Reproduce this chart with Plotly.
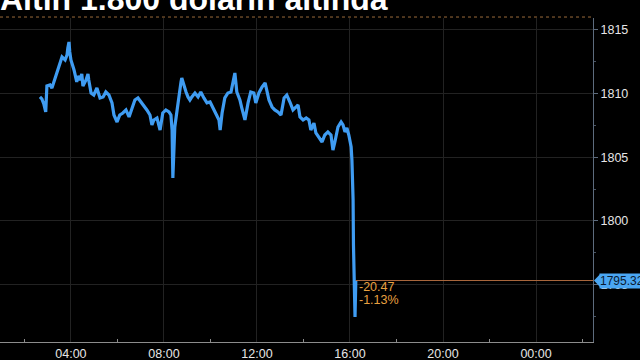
import plotly.graph_objects as go

DATE = "2020-11-27 "
times = ["02:40","02:45","02:50","02:55","02:58","03:06","03:11","03:16","03:24","03:32",
         "03:37","03:45","03:50","03:52","03:55","03:57","04:00","04:08","04:15","04:18",
         "04:23","04:28","04:31","04:39","04:44","04:46","04:52","04:59","05:07","05:15",
         "05:23","05:30","05:38","05:46","05:51","05:59","06:06","06:14","06:22","06:30",
         "06:37","06:45","06:53","07:01","07:08","07:16","07:24","07:29","07:34","07:42",
         "07:50","07:57","08:05","08:13","08:18","08:21","08:23","08:26","08:28","08:34",
         "08:39","08:44","08:46","08:52","08:57","09:02","09:07","09:12","09:20","09:28",
         "09:35","09:43","09:51","09:59","10:06","10:14","10:22","10:25","10:30","10:37",
         "10:45","10:53","10:58","11:03","11:08","11:16","11:21","11:29","11:37","11:44",
         "11:52","11:57","12:05","12:13","12:21","12:26","12:31","12:39","12:46","12:54",
         "13:02","13:10","13:17","13:25","13:33","13:41","13:46","13:51","13:59","14:07",
         "14:14","14:19","14:27","14:32","14:40","14:48","14:55","15:03","15:11","15:16",
         "15:21","15:29","15:37","15:42","15:47","15:52","15:57","16:03","16:05","16:08",
         "16:09","16:10","16:13","16:15"]
prices = [1809.74,1809.58,1809.19,1808.56,1810.60,1810.68,1810.44,1810.92,1811.70,1812.49,
          1812.88,1812.64,1813.04,1813.59,1814.06,1813.27,1812.64,1811.86,1810.92,1811.39,
          1811.07,1811.54,1810.60,1811.07,1811.54,1811.07,1810.05,1809.89,1810.44,1809.66,
          1809.74,1810.13,1809.89,1809.27,1808.32,1807.77,1808.32,1808.48,1808.72,1808.17,
          1808.87,1809.50,1809.66,1809.34,1809.11,1808.72,1808.32,1807.54,1807.93,1808.09,
          1807.14,1808.48,1808.72,1808.56,1808.32,1807.14,1803.37,1805.57,1807.38,1808.72,
          1810.05,1810.92,1811.23,1810.52,1810.13,1809.74,1809.50,1809.74,1810.05,1809.74,
          1810.13,1809.66,1809.27,1809.34,1808.95,1808.48,1807.93,1807.14,1808.48,1809.66,
          1810.05,1810.13,1810.84,1811.62,1810.13,1809.50,1808.87,1807.93,1809.27,1810.13,
          1810.05,1809.27,1810.05,1810.52,1810.84,1810.05,1809.50,1808.95,1808.72,1808.56,
          1808.32,1809.66,1809.89,1809.34,1808.72,1808.95,1809.11,1808.17,1807.93,1808.09,
          1807.93,1807.14,1807.69,1806.91,1806.59,1806.20,1806.75,1806.99,1806.75,1805.57,
          1806.20,1807.38,1807.77,1807.54,1806.99,1807.30,1806.75,1805.81,1804.79,1801.65,
          1798.11,1796.78,1792.45,1795.32]

last_price = 1795.32
change_abs = "-20.47"
change_pct = "-1.13%"
title = "Altın 1.800 doların altında"
date_label = "27 Nov 2020"
x_range = ["2020-11-27 00:57", "2020-11-28 02:27"]
y_range = [1790.49, 1815.94]
y_ticks = [1795, 1800, 1805, 1810, 1815]
x_ticks = ["2020-11-27 04:00", "2020-11-27 08:00", "2020-11-27 12:00",
           "2020-11-27 16:00", "2020-11-27 20:00", "2020-11-28 00:00"]
x_ticktext = ["04:00", "08:00", "12:00", "16:00", "20:00", "00:00"]

xs = [DATE + t for t in times]

fig = go.Figure()
fig.add_trace(go.Scatter(x=xs, y=prices, mode="lines",
                         line=dict(color="#3f9cf2", width=3.2),
                         hoverinfo="skip", showlegend=False))

FONT = "Liberation Sans"
fig.update_layout(
    width=640, height=360,
    margin=dict(l=0, r=47, t=18, b=18),
    paper_bgcolor="#000000", plot_bgcolor="#000000",
    font=dict(family=FONT, color="#e0e0e0", size=12),
    showlegend=False,
)
fig.update_xaxes(
    type="date", range=x_range,
    tickvals=x_ticks, ticktext=x_ticktext,
    showgrid=True, gridcolor="#222222", gridwidth=1,
    showline=True, linecolor="#8c8c8c", linewidth=1,
    ticks="", zeroline=False,
    tickfont=dict(size=12.5, color="#e6e6e6"),
    minor=dict(tick0="2020-11-27 02:00", dtick=4 * 3600 * 1000,
               ticks="inside", ticklen=3, tickcolor="#8c8c8c", showgrid=False),
)
fig.update_yaxes(
    side="right", range=y_range,
    tickvals=y_ticks, ticktext=[str(v) for v in y_ticks],
    showgrid=True, gridcolor="#222222", gridwidth=1,
    showline=True, linecolor="#5d6b7d", linewidth=1,
    ticks="outside", ticklen=4, tickcolor="#5d6b7d",
    zeroline=False,
    tickfont=dict(size=12.5, color="#e6e6e6"),
    minor=dict(dtick=2.5, ticks="outside", ticklen=2, tickcolor="#4a5564", showgrid=False),
)

# top dotted border
fig.add_shape(type="line", xref="paper", yref="paper", x0=0, x1=1, y0=1.003, y1=1.003,
              line=dict(color="#9a6a3a", width=1, dash="dot"))
# last price line
fig.add_shape(type="line", xref="x", yref="y", x0=xs[-1], x1=x_range[1],
              y0=last_price, y1=last_price, line=dict(color="#a8663c", width=1))
# price tag arrow
pw = 593.0
fig.add_shape(type="path", xref="paper", yref="y",
              path=f"M {1 + 1/pw} {last_price} L {1 + 7/pw} {last_price + 0.5} "
                   f"L {1 + 7/pw} {last_price - 0.5} Z",
              fillcolor="#4aa6f2", line=dict(width=0))

fig.add_annotation(xref="paper", yref="y", x=1, y=last_price, xanchor="left",
                   yanchor="middle", xshift=6, text=last_price.__format__(".2f"),
                   showarrow=False, bgcolor="#4aa6f2", borderpad=0,
                   font=dict(size=12, color="#0a1a30", family=FONT))

fig.add_annotation(xref="x", yref="y", x=xs[-1], y=last_price, xanchor="left",
                   yanchor="middle", xshift=1, yshift=-6, text=change_abs,
                   showarrow=False, font=dict(size=12.5, color="#e8a040", family=FONT))
fig.add_annotation(xref="x", yref="y", x=xs[-1], y=last_price, xanchor="left",
                   yanchor="middle", xshift=1, yshift=-19, text=change_pct,
                   showarrow=False, font=dict(size=12.5, color="#e8a040", family=FONT))

fig.add_annotation(xref="paper", yref="paper", x=0, y=1, xanchor="left", yanchor="middle",
                   yshift=19.5, xshift=-2, text=f"<b>{title}</b>", showarrow=False,
                   font=dict(size=32, color="#ffffff", family=FONT))
fig.add_annotation(xref="x", yref="paper", x="2020-11-27 13:00", y=0, xanchor="center",
                   yanchor="top", yshift=-15, text=date_label, showarrow=False,
                   font=dict(size=12.5, color="#e6e6e6", family=FONT))

fig.write_html("out.html")
